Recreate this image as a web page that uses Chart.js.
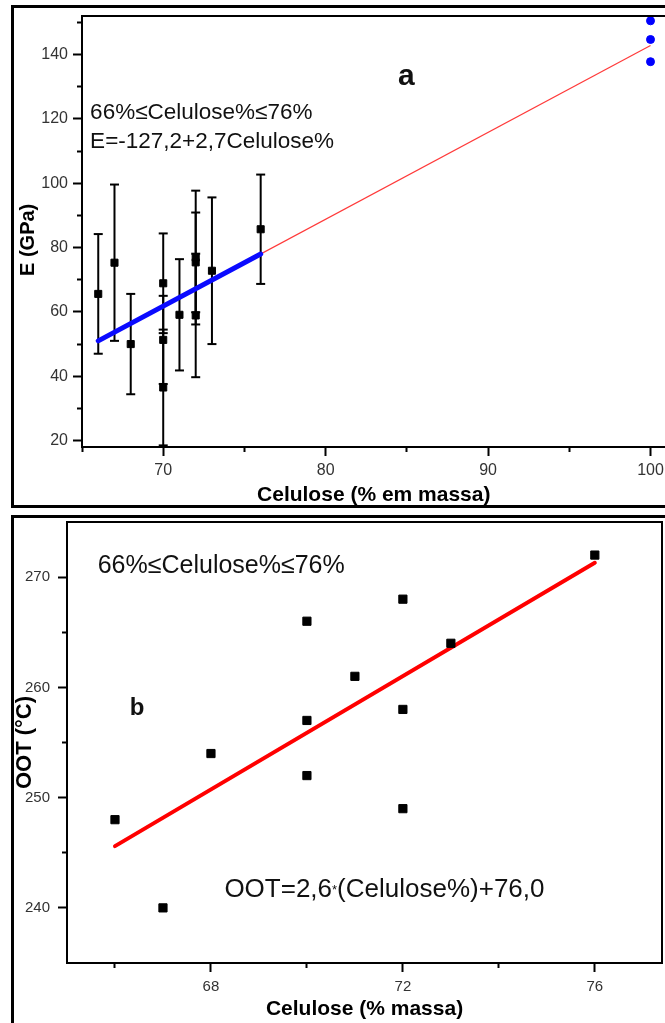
<!DOCTYPE html>
<html>
<head>
<meta charset="utf-8">
<script src="https://cdn.jsdelivr.net/npm/chart.js@4.4.1/dist/chart.umd.min.js"></script>
<style>
  html, body { margin: 0; padding: 0; background: #fff; }
  body { width: 665px; height: 1023px; overflow: hidden; position: relative; }
  .box { position: absolute; left: 11px; width: 760px; border: 3px solid #000; box-sizing: border-box; }
  #boxA { top: 5px; height: 503px; }
  #boxB { top: 515px; height: 600px; }
  canvas { position: absolute; left: 0; }
  #chartA { top: 0; }
  #chartB { top: 515px; }
</style>
</head>
<body>
<div class="box" id="boxA"></div>
<div class="box" id="boxB"></div>
<canvas id="chartA" width="700" height="510"></canvas>
<canvas id="chartB" width="700" height="508"></canvas>
<script>
'use strict';

// (a) modulus vs cellulose content
const celA = [66, 67, 68, 70, 70, 70, 71, 72, 72, 72, 73, 76];
const modA = [65.6, 75.3, 50.0, 68.9, 51.3, 36.5, 59.1, 76.9, 75.4, 58.9, 72.8, 85.7];
const errA = [18.6, 24.3, 15.6, 15.5, 13.7, 18.0, 17.3, 20.8, 15.5, 19.2, 22.8, 17.0];
const celPure = [100, 100, 100];
const modPure = [150.5, 144.7, 137.8];
const fitAx = [66, 76];
const fitAy = [51.0, 78.0];
const extAx = [66, 100];
const extAy = [51.0, 142.8];
const xTicksA = [70, 80, 90, 100];
const xMinorA = [65, 75, 85, 95];
const yTicksA = [20, 40, 60, 80, 100, 120, 140];
const yMinorA = [30, 50, 70, 90, 110, 130, 150];

// (b) OOT vs cellulose content
const celB = [66, 67, 68, 70, 70, 70, 71, 72, 72, 72, 73, 76];
const ootB = [248, 240, 254, 266, 257, 252, 261, 268, 258, 249, 264, 272];
const fitBx = [66, 76];
const fitBy = [245.6, 271.3];
const xTicksB = [68, 72, 76];
const xMinorB = [66, 70, 74];
const yTicksB = [240, 250, 260, 270];
const yMinorB = [245, 255, 265];

Chart.defaults.font.family = '"Liberation Sans", Arial, sans-serif';
Chart.defaults.plugins.legend.display = false;
Chart.defaults.plugins.tooltip.enabled = false;
Chart.defaults.animation = false;

const pts = (xs, ys) => xs.map((x, i) => ({ x: x, y: ys[i] }));
const setTicks = list => scale => { scale.ticks = list.map(v => ({ value: v })); };
// fixed axis size, no extra margin for the end labels
const fixSize = (prop, n) => scale => {
  scale[prop] = n;
  scale.paddingTop = scale.paddingBottom = scale.paddingLeft = scale.paddingRight = 0;
};

// chart frame + text notes placed in data units
const notes = {
  id: 'notes',
  afterDraw(chart, args, opts) {
    const { ctx, chartArea: a, scales } = chart;
    ctx.save();
    ctx.strokeStyle = '#000';
    ctx.lineWidth = 2;
    ctx.strokeRect(a.left, a.top, a.right - a.left, a.bottom - a.top);
    ctx.fillStyle = '#111';
    ctx.textBaseline = 'alphabetic';
    (opts.items || []).forEach(n => {
      let px = scales.x.getPixelForValue(n.x);
      const py = scales.y.getPixelForValue(n.y);
      n.parts.forEach(p => {
        ctx.font = p.font;
        ctx.fillText(p.text, px, py + (p.dy || 0));
        px += ctx.measureText(p.text).width;
      });
    });
    ctx.restore();
  }
};

function axes(cfg) {
  const major = {
    grid: { drawOnChartArea: false, tickLength: 9, tickWidth: 2, tickColor: '#000' },
    border: { color: '#000', width: 2 }
  };
  const minor = {
    ticks: { display: false },
    grid: { drawOnChartArea: false, tickLength: 5, tickWidth: 2, tickColor: '#000' },
    border: { display: false }
  };
  return {
    x: Object.assign({
      type: 'linear', position: 'bottom', min: cfg.xmin, max: cfg.xmax, weight: 1,
      afterBuildTicks: setTicks(cfg.xt),
      afterFit: fixSize('height', cfg.xh),
      ticks: { color: '#333', font: { size: cfg.tickSize }, padding: cfg.xpad, maxRotation: 0 },
      title: { display: true, text: cfg.xtitle, color: '#000',
        font: { size: cfg.xtSize, weight: 'bold' }, padding: { top: 0, bottom: cfg.xtPad } }
    }, major),
    xm: Object.assign({
      type: 'linear', position: 'bottom', min: cfg.xmin, max: cfg.xmax, weight: 0,
      afterBuildTicks: setTicks(cfg.xm),
      afterFit: fixSize('height', 0)
    }, minor),
    y: Object.assign({
      type: 'linear', position: 'left', min: cfg.ymin, max: cfg.ymax, weight: 1,
      afterBuildTicks: setTicks(cfg.yt),
      afterFit: fixSize('width', cfg.yw),
      ticks: { color: '#333', font: { size: cfg.tickSize }, padding: cfg.ypad },
      title: { display: true, text: cfg.ytitle, color: '#000',
        font: { size: cfg.ytSize, weight: 'bold' }, padding: { top: cfg.ytPad, bottom: 0 } }
    }, major),
    ym: Object.assign({
      type: 'linear', position: 'left', min: cfg.ymin, max: cfg.ymax, weight: 0,
      afterBuildTicks: setTicks(cfg.ym),
      afterFit: fixSize('width', 0)
    }, minor)
  };
}

// ---- panel a ----
const errBars = celA.map((x, i) => ({
  data: [{ x: x, y: modA[i] - errA[i] }, { x: x, y: modA[i] + errA[i] }],
  showLine: true,
  borderColor: '#000',
  borderWidth: 2,
  pointStyle: 'line',
  pointRadius: 4.5,
  pointBorderWidth: 2,
  pointBorderColor: '#000',
  order: 2
}));

new Chart(document.getElementById('chartA'), {
  type: 'scatter',
  data: {
    datasets: [
      {
        data: pts(celA, modA),
        pointStyle: 'rect',
        pointRadius: 5,
        backgroundColor: '#000',
        borderColor: '#000',
        borderWidth: 1,
        order: 0
      },
      {
        data: pts(fitAx, fitAy),
        showLine: true,
        borderColor: '#0a0aff',
        borderWidth: 5,
        borderCapStyle: 'round',
        pointRadius: 0,
        order: 1
      },
      ...errBars,
      {
        data: pts(extAx, extAy),
        showLine: true,
        borderColor: '#ff3a3a',
        borderWidth: 1.2,
        pointRadius: 0,
        order: 3
      },
      {
        data: pts(celPure, modPure),
        pointStyle: 'circle',
        pointRadius: 4,
        backgroundColor: '#0000ff',
        borderColor: '#0000ff',
        order: 0
      }
    ]
  },
  options: {
    responsive: false,
    layout: { padding: { top: 16, right: 17, left: 0, bottom: 0 } },
    scales: axes({
      xmin: 65, xmax: 102, ymin: 18, ymax: 152,
      xt: xTicksA, xm: xMinorA, yt: yTicksA, ym: yMinorA,
      xh: 63, yw: 82, tickSize: 16, xpad: 5, ypad: 5,
      xtitle: 'Celulose (% em massa)   ', xtSize: 21, xtPad: 2,
      ytitle: 'E (GPa)   ', ytSize: 20, ytPad: 16
    }),
    plugins: {
      notes: {
        items: [
          { x: 65.5, y: 120, parts: [{ text: '66%≤Celulose%≤76%', font: '22.5px "Liberation Sans", Arial' }] },
          { x: 65.5, y: 111, parts: [{ text: 'E=-127,2+2,7Celulose%', font: '22.5px "Liberation Sans", Arial' }] },
          { x: 84.46, y: 130.5, parts: [{ text: 'a', font: 'bold 30px "Liberation Sans", Arial' }] }
        ]
      }
    }
  },
  plugins: [notes]
});

// ---- panel b ----
new Chart(document.getElementById('chartB'), {
  type: 'scatter',
  data: {
    datasets: [
      {
        data: pts(celB, ootB),
        pointStyle: 'rect',
        pointRadius: 5.8,
        backgroundColor: '#000',
        borderColor: '#000',
        borderWidth: 1,
        order: 0
      },
      {
        data: pts(fitBx, fitBy),
        showLine: true,
        borderColor: '#ff0000',
        borderWidth: 4,
        borderCapStyle: 'round',
        pointRadius: 0,
        order: 1
      }
    ]
  },
  options: {
    responsive: false,
    layout: { padding: { top: 7, right: 38, left: 0, bottom: 0 } },
    scales: axes({
      xmin: 65, xmax: 77.4, ymin: 235, ymax: 275,
      xt: xTicksB, xm: xMinorB, yt: yTicksB, ym: yMinorB,
      xh: 60, yw: 67, tickSize: 15, xpad: 6, ypad: 8,
      xtitle: 'Celulose (% massa)', xtSize: 21, xtPad: 1,
      ytitle: 'OOT (°C)', ytSize: 22, ytPad: 12
    }),
    plugins: {
      notes: {
        items: [
          { x: 65.64, y: 270.4, parts: [{ text: '66%≤Celulose%≤76%', font: '25px "Liberation Sans", Arial' }] },
          { x: 66.31, y: 257.5, parts: [{ text: 'b', font: 'bold 24px "Liberation Sans", Arial' }] },
          { x: 68.28, y: 241, parts: [
            { text: 'OOT=2,6', font: '26px "Liberation Sans", Arial' },
            { text: '*', font: '13px "Liberation Sans", Arial', dy: -3 },
            { text: '(Celulose%)+76,0', font: '26px "Liberation Sans", Arial' }
          ] }
        ]
      }
    }
  },
  plugins: [notes]
});
</script>
</body>
</html>
